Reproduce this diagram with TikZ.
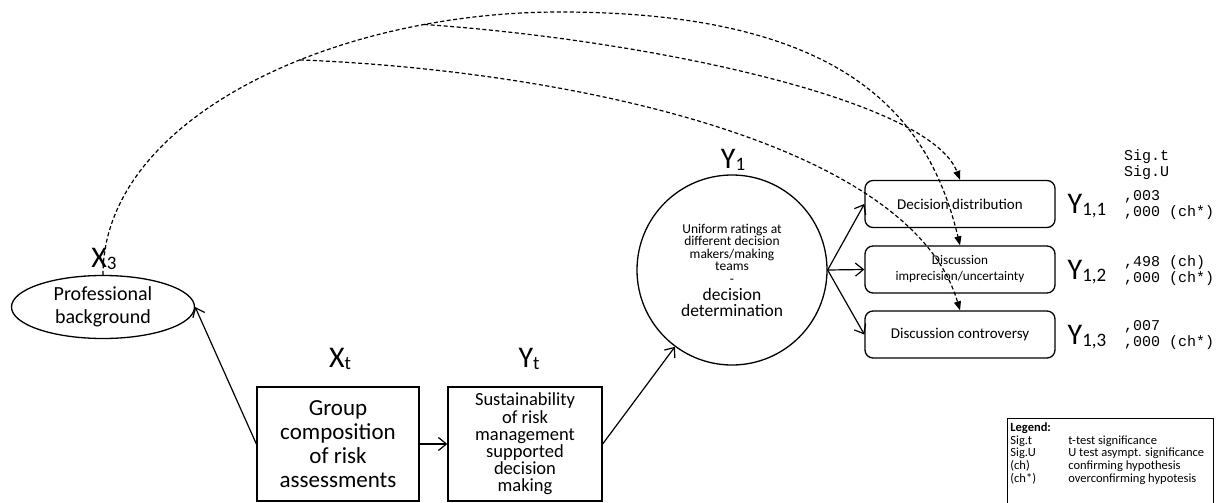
\documentclass[tikz,border=0pt]{standalone}
\usepackage{fontspec}
\setmainfont{Carlito}
\setmonofont{Liberation Mono}
\usetikzlibrary{positioning,shapes.geometric,arrows.meta}

% variable name with lowered index
\newcommand{\varlab}[2]{#1\raisebox{-2pt}{\fontsize{19}{19}\selectfont #2}}

\begin{document}
\begin{tikzpicture}[x=1pt,y=-1pt,
    every node/.style={font=\fontsize{15}{17}\selectfont},
    varname/.style={font=\fontsize{30}{30}\selectfont, anchor=base, inner sep=0pt},
    factor/.style={draw, line width=1.3pt, minimum height=114pt, align=center, inner sep=2pt},
    outcome/.style={draw, line width=1.3pt, rounded corners=8pt, minimum width=190pt,
                    minimum height=47pt, align=center, inner sep=1pt},
    sigval/.style={font=\ttfamily\fontsize{15}{16}\selectfont, align=left, anchor=west, inner sep=0pt},
    dep/.style={line width=1.2pt, -{Straight Barb[length=8pt,width=13pt]}},
    infl/.style={line width=1.2pt, dash pattern=on 4pt off 2.5pt, -{Triangle[length=9pt,width=7pt]}}]
    \useasboundingbox (0,0) rectangle (1224,503);

    % predictors
    \node[draw, ellipse, line width=1.3pt, minimum width=183pt, minimum height=63pt, inner sep=0pt,
          align=center, font=\fontsize{20}{23}\selectfont] (bg) at (103,307) {Professional\\background};
    \node[factor, minimum width=162pt, font=\fontsize{23}{24}\selectfont] (grp) at (338,444)
        {Group\\composition\\of risk\\assessments};
    \node[factor, minimum width=154pt, font=\fontsize{18.5}{17.2}\selectfont] (sust) at (525,444)
        {Sustainability\\of risk\\management\\supported\\decision\\making};

    % decision determination
    \node[draw, circle, line width=1.3pt, minimum size=190pt, inner sep=0pt, align=center,
          font={\fontsize{13.5}{12.6}\selectfont\lineskiplimit=-20pt}] (y1) at (732,270)
        {Uniform ratings at\\different decision\\makers/making\\teams\\-\\[4pt]%
         \fontsize{17.5}{16}\selectfont decision\\[3.5pt]\fontsize{17.5}{16}\selectfont determination};

    % outcomes
    \node[outcome] (dd1) at (960,204) {Decision distribution};
    \node[outcome, font=\fontsize{13.2}{16}\selectfont] (imp) at (960,269.5) {Discussion\\imprecision/uncertainty};
    \node[outcome] (con) at (960,334.5) {Discussion controversy};

    % variable names
    \node[varname] (lx3) at (104,267) {\varlab{X}{3}};
    \node[varname] (lxt) at (340,367) {\varlab{X}{t}};
    \node[varname] (lyt) at (529,367) {\varlab{Y}{t}};
    \node[varname] (ly1) at (733,168) {\varlab{Y}{1}};
    \node[varname] (ly11) at (1087,213) {\varlab{Y}{1,1}};
    \node[varname] (ly12) at (1087,279) {\varlab{Y}{1,2}};
    \node[varname] (ly13) at (1087,344) {\varlab{Y}{1,3}};

    % significance values
    \node[sigval] (sighead) at (1124,165) {Sig.t\\Sig.U};
    \node[sigval] (v11) at (1124,205) {,003\\,000 (ch*)};
    \node[sigval] (v12) at (1124,270.5) {,498 (ch)\\,000 (ch*)};
    \node[sigval] (v13) at (1124,335.5) {,007\\,000 (ch*)};

    % legend
    \node[draw, line width=0.8pt, anchor=north west, inner sep=3pt, text height=10pt, text depth=74pt,
          font=\fontsize{12.5}{12.6}\selectfont] (leg) at (1007,418)
        {\begin{tabular}[t]{@{}p{58pt}@{}p{142pt}@{}}
          \textbf{Legend:} & \\
          Sig.t & t-test significance\\
          Sig.U & U test asympt. significance\\
          (ch)  & confirming hypothesis\\
          (ch*) & overconfirming hypotesis
         \end{tabular}};

    % direct paths
    \draw[dep] (grp.west) -- (bg.east);
    \draw[dep] (grp.east) -- (sust.west);
    \draw[dep] (sust.east) -- (y1);
    \draw[dep] (y1.east) -- (dd1.west);
    \draw[dep] (y1.east) -- (imp.west);
    \draw[dep] (y1.east) -- (con.west);

    % influence of professional background
    \coordinate (apex) at (560,12);
    \draw[infl] (bg.north) .. controls (103,120) and (330,12) .. (apex)
        coordinate[pos=0.6] (br3) coordinate[pos=0.8] (br2)
        .. controls (850,12) and (930,120) .. (imp.north);
    \draw[infl] (br2) .. controls (650,40) and (930,100) .. (dd1.north);
    \draw[infl] (br3) .. controls (560,70) and (910,140) .. (con.north);
\end{tikzpicture}
\end{document}
